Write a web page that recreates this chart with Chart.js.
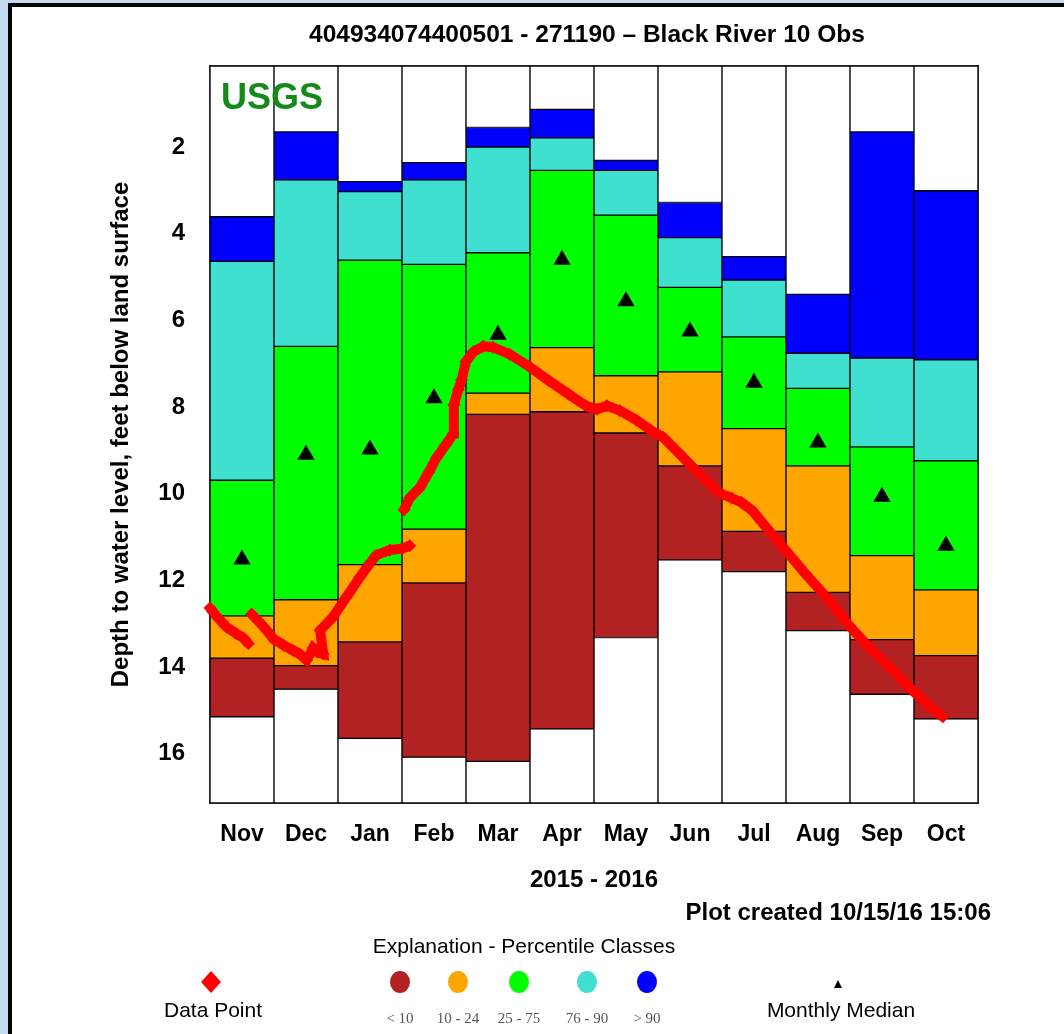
<!DOCTYPE html>
<html><head><meta charset="utf-8">
<script src="https://cdn.jsdelivr.net/npm/chart.js@4.4.1/dist/chart.umd.min.js"></script>
<style>
html,body{margin:0;padding:0;background:#c6dbef;width:1064px;height:1034px;overflow:hidden;}
#panel{position:absolute;left:8px;top:3px;right:0;bottom:0;background:#fff;border-left:4px solid #000;border-top:4px solid #000;}
#c{position:absolute;left:0;top:0;}
</style></head><body>
<div id="panel"></div>
<canvas id="c" width="1064" height="1034"></canvas>
<script>
// ---- Data ----
const months = ['Nov','Dec','Jan','Feb','Mar','Apr','May','Jun','Jul','Aug','Sep','Oct'];
// Depth (ft below land surface) boundaries of percentile classes per month
const maxLevel = [3.61, 1.65, 2.80, 2.36, 1.55, 1.13, 2.31, 3.28, 4.53, 5.40, 1.65, 3.01]; // top of >90 class
const p90      = [4.64, 2.76, 3.03, 2.76, 2.00, 1.79, 2.54, 4.09, 5.07, 6.76, 6.87, 6.91];
const p75      = [9.69, 6.60, 4.61, 4.71, 4.44, 2.54, 3.57, 5.24, 6.38, 7.57, 8.92, 9.24];
const p25      = [12.82,12.45,11.64,10.82, 7.68, 6.63, 7.28, 7.19, 8.50, 9.36,11.43,12.22];
const p10      = [13.80,13.97,13.42,12.06, 8.17, 8.11, 8.60, 9.36,10.87,12.28,13.37,13.74];
const minLevel = [15.15,14.51,15.65,16.08,16.18,15.43,13.32,11.53,11.80,13.16,14.63,15.20]; // bottom of <10 class
const medians  = [11.52, 9.10, 8.98, 7.80, 6.33, 4.60, 5.56, 6.26, 7.44, 8.82,10.07,11.20];
// Daily data points: position in months since Nov 1 2015, depth (null = gap)
const obsX = [0.00,0.12,0.26,0.40,0.52,0.60,0.62, 0.65,0.78,0.90,0.99,1.15,1.30,1.40,1.51,1.61,1.68,1.77,
  1.72,1.92,2.13,2.34,2.50,2.60,2.81,3.00,3.12,3.08,
  3.03,3.12,3.28,3.42,3.54,3.68,3.80,3.81,3.88,3.93,4.00,4.12,4.27,4.42,4.68,5.00,5.30,5.60,5.88,6.05,6.20,
  6.40,6.66,6.90,7.08,7.35,7.65,7.95,8.15,8.30,8.48,8.69,9.00,9.31,9.63,9.99,10.30,10.67,10.98,11.20,11.45];
const obsY = [12.64,12.86,13.08,13.22,13.33,13.46,null, 12.78,12.98,13.18,13.35,13.50,13.62,13.70,13.84,13.56,13.66,13.70,
  13.16,12.85,12.39,11.93,11.60,11.42,11.30,11.27,11.20,null,
  10.38,10.10,9.86,9.50,9.17,8.88,8.62,7.95,7.60,7.38,6.95,6.72,6.60,6.62,6.78,7.08,7.40,7.70,7.98,8.05,7.97,
  8.08,8.30,8.55,8.70,9.10,9.55,9.98,10.10,10.20,10.40,10.78,11.32,11.86,12.39,13.05,13.55,14.08,14.55,14.85,15.15];
const yTicks = [2,4,6,8,10,12,14,16];
const classLabels = ['< 10','10 - 24','25 - 75','76 - 90','> 90'];
const classColors = ['#b22222','#ffa500','#00ff00','#40e0d0','#0000ff'];

const Y_MIN = 0.13, Y_MAX = 17.14;
const FONT = "'Liberation Sans', Arial, sans-serif";

function band(lo, hi){ return months.map((m,i)=>[lo[i], hi[i]]); }
const yMinArr = months.map(()=>Y_MIN), yMaxArr = months.map(()=>Y_MAX);

function barDs(data, color){
  return {type:'bar', data, backgroundColor:color, borderColor:'#000', borderWidth:1,
    borderSkipped:false, barPercentage:1, categoryPercentage:1, grouped:false, order:10};
}

const extras = {
  id:'extras',
  beforeDatasetsDraw(chart){
    const {ctx, chartArea:a} = chart;
    ctx.save(); ctx.strokeStyle = '#222'; ctx.lineWidth = 2;
    ctx.strokeRect(a.left, a.top, a.right - a.left, a.bottom - a.top);
    ctx.restore();
  },
  afterDraw(chart){
    const ctx = chart.ctx;
    ctx.save();
    ctx.textBaseline = 'middle';
    // Title
    ctx.fillStyle = '#000'; ctx.font = `bold 24.5px ${FONT}`; ctx.textAlign = 'center';
    ctx.fillText('404934074400501 - 271190 – Black River 10 Obs', 587, 35);
    // USGS logo text
    ctx.fillStyle = '#158a18'; ctx.font = `bold 36px ${FONT}`; ctx.textAlign = 'left';
    ctx.fillText('USGS', 221, 99);
    // Plot created
    ctx.fillStyle = '#000'; ctx.font = `bold 24px ${FONT}`; ctx.textAlign = 'right';
    ctx.fillText('Plot created 10/15/16 15:06', 991, 913);
    // Explanation
    ctx.font = `21px ${FONT}`; ctx.textAlign = 'center';
    ctx.fillText('Explanation - Percentile Classes', 524, 947);
    // Data point diamond
    ctx.fillStyle = '#ff0000';
    ctx.beginPath(); ctx.moveTo(211,971); ctx.lineTo(221,982); ctx.lineTo(211,993); ctx.lineTo(201,982); ctx.closePath(); ctx.fill();
    ctx.fillStyle = '#000'; ctx.font = `21px ${FONT}`;
    ctx.fillText('Data Point', 213, 1011);
    // Percentile circles
    const cx = [400, 458, 519, 587, 647];
    classLabels.forEach((lab,i)=>{
      ctx.fillStyle = classColors[i];
      ctx.beginPath(); ctx.ellipse(cx[i], 982, 10, 11, 0, 0, Math.PI*2); ctx.fill();
      ctx.fillStyle = '#555'; ctx.font = `15px 'Liberation Serif', serif`;
      ctx.fillText(lab, cx[i], 1019);
    });
    // Monthly median
    ctx.fillStyle = '#000';
    ctx.beginPath(); ctx.moveTo(838,980); ctx.lineTo(842,988); ctx.lineTo(834,988); ctx.closePath(); ctx.fill();
    ctx.font = `21px ${FONT}`;
    ctx.fillText('Monthly Median', 841, 1011);
    ctx.restore();
  }
};

new Chart(document.getElementById('c'), {
  type:'bar',
  data:{
    labels: months,
    datasets:[
      {type:'line', label:'Data Point', xAxisID:'xl', data: obsX.map((x,i)=>({x, y:obsY[i]})),
        borderColor:'#ff0000', borderWidth:10, backgroundColor:'#ff0000', pointStyle:'rectRot',
        pointRadius:6.5, pointBorderWidth:0, pointBackgroundColor:'#ff0000', tension:0, spanGaps:false,
        order:0, clip:14},
      {type:'line', label:'Monthly Median', data: medians, showLine:false, pointStyle:'triangle',
        pointRadius:10, pointBackgroundColor:'#000', pointBorderColor:'#000', pointBorderWidth:0, order:1},
      barDs(band(yMinArr, maxLevel), '#ffffff'),
      barDs(band(maxLevel, p90), classColors[4]),
      barDs(band(p90, p75), classColors[3]),
      barDs(band(p75, p25), classColors[2]),
      barDs(band(p25, p10), classColors[1]),
      barDs(band(p10, minLevel), classColors[0]),
      barDs(band(minLevel, yMaxArr), '#ffffff')
    ]
  },
  options:{
    responsive:false, animation:false, devicePixelRatio:1,
    layout:{padding:{left:0, right:86, top:66, bottom:0}},
    plugins:{ legend:{display:false}, tooltip:{enabled:false}, title:{display:false} },
    scales:{
      x:{type:'category', stacked:true, offset:true, grid:{display:false, drawTicks:false}, border:{display:false},
        ticks:{color:'#000', font:{family:FONT, size:23, weight:'bold'}, padding:18},
        title:{display:true, text:'2015 - 2016', color:'#000', font:{family:FONT, size:24, weight:'bold'},
          padding:{top:0, bottom:139}},
        afterFit(s){ s.height = 231; }},
      xl:{type:'linear', min:0, max:12, offset:false, display:false},
      y:{type:'linear', reverse:true, min:Y_MIN, max:Y_MAX, grid:{display:false, drawTicks:false}, border:{display:false},
        afterBuildTicks(s){ s.ticks = yTicks.map(v=>({value:v})); },
        ticks:{color:'#000', font:{family:FONT, size:24, weight:'bold'}, padding:25},
        title:{display:true, text:'Depth to water level, feet below land surface', color:'#000',
          font:{family:FONT, size:24, weight:'bold'}, padding:{top:107, bottom:0}},
        afterFit(s){ s.width = 210; }}
    }
  },
  plugins:[extras]
});
</script>
</body></html>
